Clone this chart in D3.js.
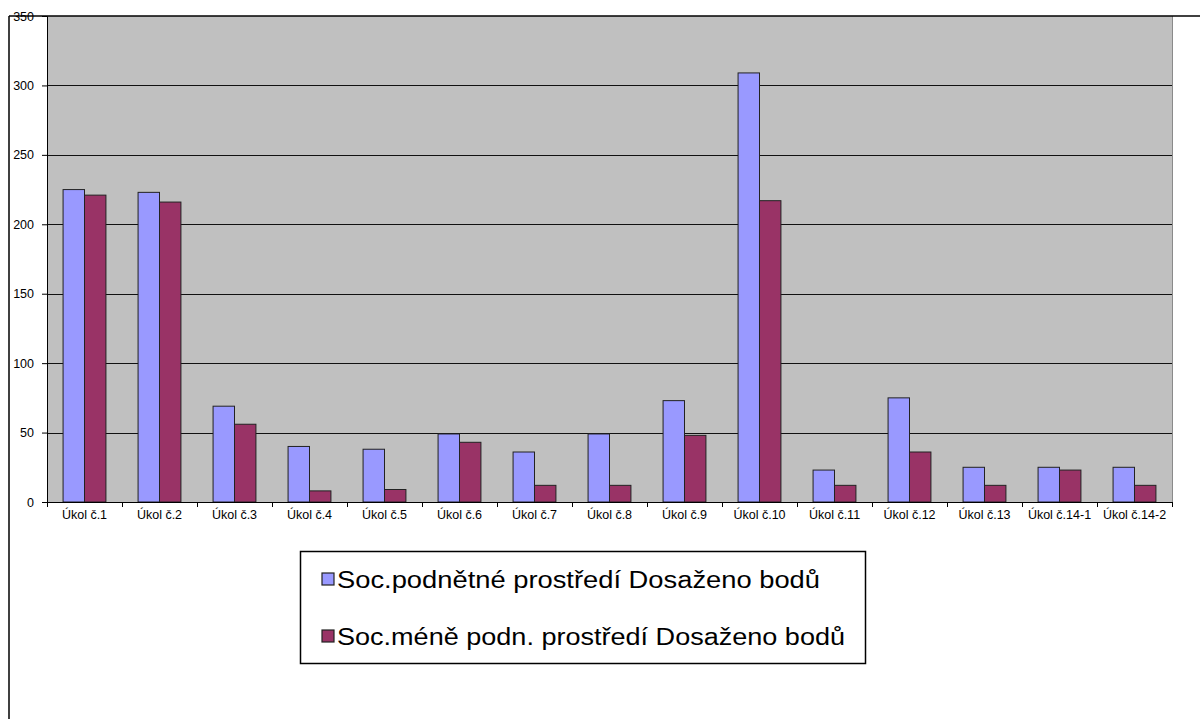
<!DOCTYPE html>
<html>
<head>
<meta charset="utf-8">
<script src="https://cdn.jsdelivr.net/npm/d3@7"></script>
<style>
  html, body { margin: 0; padding: 0; background: #fff; }
  svg { display: block; }
  text { font-family: "Liberation Sans", Arial, sans-serif; fill: #000; }
</style>
</head>
<body>
<svg id="chart" width="1200" height="719"></svg>
<script>
const categories = ["Úkol č.1","Úkol č.2","Úkol č.3","Úkol č.4","Úkol č.5","Úkol č.6","Úkol č.7","Úkol č.8","Úkol č.9","Úkol č.10","Úkol č.11","Úkol č.12","Úkol č.13","Úkol č.14-1","Úkol č.14-2"];
const seriesNames = ["Soc.podnětné prostředí Dosaženo bodů", "Soc.méně podn. prostředí Dosaženo bodů"];
const podnetne = [225, 223, 69, 40, 38, 49, 36, 49, 73, 309, 23, 75, 25, 25, 25];
const menePodn = [221, 216, 56, 8, 9, 43, 12, 12, 48, 217, 12, 36, 12, 23, 12];
const yTicks = [0, 50, 100, 150, 200, 250, 300, 350];
const colors = ["#9999FF", "#993366"];

const svg = d3.select("#chart");
const plot = { left: 47, right: 1172, top: 16, bottom: 502 };

const x = d3.scaleBand().domain(categories).range([plot.left, plot.right]).paddingInner(0).paddingOuter(0);
const bw = x.bandwidth();
const groupW = bw / 1.75;  // gap width 150%
const x1 = d3.scaleBand().domain([0, 1]).range([0, groupW]);
const y = d3.scaleLinear().domain([0, 350]).range([plot.bottom, plot.top]);

// plot background
svg.append("rect").attr("x", plot.left).attr("y", plot.top)
  .attr("width", plot.right - plot.left).attr("height", plot.bottom - plot.top)
  .attr("fill", "#C0C0C0");
svg.append("line").attr("x1", plot.right + 0.5).attr("x2", plot.right + 0.5)
  .attr("y1", plot.top).attr("y2", plot.bottom).attr("stroke", "#8a8a8a").attr("stroke-width", 1);

// gridlines
svg.append("g").selectAll("line").data(yTicks.filter(d => d > 0 && d < 350)).join("line")
  .attr("x1", plot.left).attr("x2", plot.right)
  .attr("y1", d => Math.round(y(d)) + 0.5).attr("y2", d => Math.round(y(d)) + 0.5)
  .attr("stroke", "#111").attr("stroke-width", 1);

// bars
const data = categories.map((c, i) => ({ c, vals: [podnetne[i], menePodn[i]] }));
const groups = svg.append("g").selectAll("g").data(data).join("g")
  .attr("transform", d => `translate(${x(d.c) + (bw - groupW) / 2},0)`);
groups.selectAll("rect").data(d => d.vals.map((v, k) => ({ v, k }))).join("rect")
  .attr("x", d => x1(d.k))
  .attr("y", d => y(d.v))
  .attr("width", x1.bandwidth())
  .attr("height", d => y(0) - y(d.v))
  .attr("fill", d => colors[d.k])
  .attr("stroke", "#222").attr("stroke-width", 1);

// y axis
const yAxis = d3.axisLeft(y).tickValues(yTicks).tickSize(5).tickPadding(8);
const gy = svg.append("g").attr("transform", `translate(${plot.left},0)`).call(yAxis);
gy.select(".domain").attr("stroke", "#000");
gy.selectAll(".tick line").attr("stroke", "#000");
gy.selectAll(".tick text").attr("font-size", 12.5).attr("font-family", "Liberation Sans, Arial, sans-serif").attr("fill", "#000");

// x axis
const xAxis = d3.axisBottom(x).tickSize(0).tickPadding(8);
const gx = svg.append("g").attr("transform", `translate(0,${plot.bottom})`).call(xAxis);
gx.select(".domain").attr("stroke", "#000");
gx.selectAll(".tick text").attr("font-size", 12.5).attr("font-family", "Liberation Sans, Arial, sans-serif").attr("fill", "#000");
// category boundary ticks
const bounds = d3.range(categories.length + 1).map(i => plot.left + i * bw);
svg.append("g").selectAll("line").data(bounds).join("line")
  .attr("x1", d => Math.round(d) + 0.5).attr("x2", d => Math.round(d) + 0.5)
  .attr("y1", plot.bottom).attr("y2", plot.bottom + 5)
  .attr("stroke", "#000");

// outer frame
svg.append("line").attr("x1", 9).attr("x2", 1200).attr("y1", 16).attr("y2", 16).attr("stroke", "#000").attr("stroke-width", 1.5);
svg.append("line").attr("x1", 9).attr("x2", 9).attr("y1", 16).attr("y2", 719).attr("stroke", "#000").attr("stroke-width", 1.5);

// legend
const lg = svg.append("g");
lg.append("rect").attr("x", 300.5).attr("y", 551.5).attr("width", 565).attr("height", 112)
  .attr("fill", "#fff").attr("stroke", "#000").attr("stroke-width", 1.5);
const textWidths = [483, 508];
const items = lg.selectAll("g.item").data(seriesNames).join("g").attr("class", "item")
  .attr("transform", (d, i) => `translate(322,${573 + i * 57})`);
items.append("rect").attr("width", 12).attr("height", 12)
  .attr("fill", (d, i) => colors[i]).attr("stroke", "#222").attr("stroke-width", 1.2);
items.append("text").attr("x", 15).attr("y", 15).attr("font-size", 23)
  .attr("textLength", (d, i) => textWidths[i]).attr("lengthAdjust", "spacingAndGlyphs")
  .attr("fill", "#111").text(d => d);
</script>
</body>
</html>
